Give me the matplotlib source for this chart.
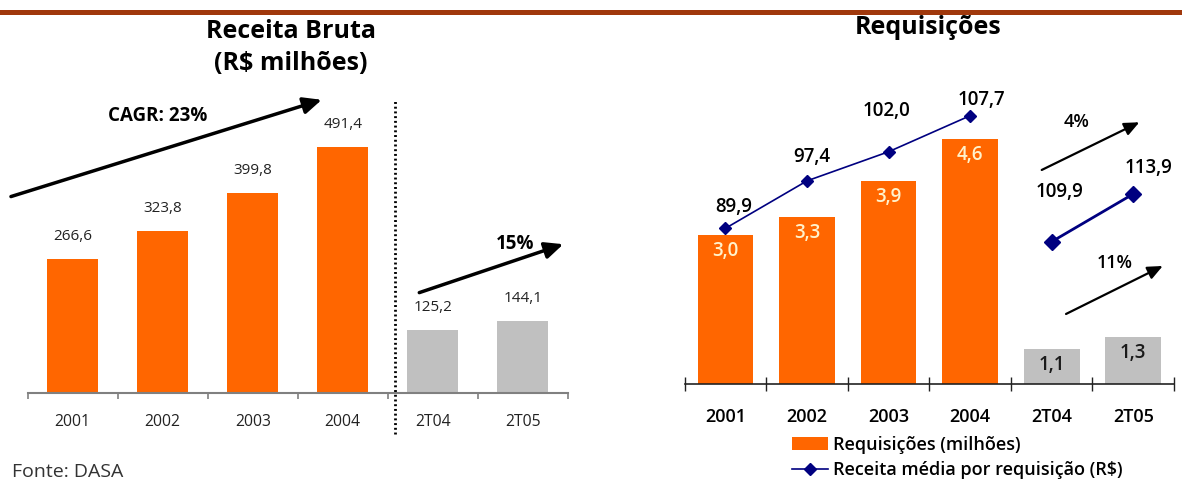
import matplotlib
matplotlib.use('Agg')
import numpy as np
import matplotlib.pyplot as plt
from matplotlib.lines import Line2D

plt.rcParams['font.family'] = ['Open Sans', 'DejaVu Sans']

# dados
periodos = ['2001', '2002', '2003', '2004', '2T04', '2T05']
receita_bruta = [266.6, 323.8, 399.8, 491.4, 125.2, 144.1]
requisicoes = [3.0, 3.3, 3.9, 4.6, 1.1, 1.3]
receita_media_anual = [89.9, 97.4, 102.0, 107.7]
receita_media_tri = [109.9, 113.9]

laranja = '#FF6600'
cinza = '#C0C0C0'
azul = '#000080'
cores = [laranja] * 4 + [cinza] * 2
peso = 'semibold'


def fmt(v):
    return f'{v:.1f}'.replace('.', ',')


W, H = 1182, 480
fig = plt.figure(figsize=(W / 100, H / 100), dpi=100)
x = np.arange(len(periodos))

# faixa no topo
fig.add_artist(Line2D([0, 1], [1 - 12 / H, 1 - 12 / H], color='#A0380C', lw=3.6))

# ---------- Receita Bruta ----------
ax1 = fig.add_axes([27.7 / W, 87.3 / H, 540 / W, 292.7 / H])
ax1.bar(x, receita_bruta, width=0.567, color=cores)
ax1.set_xlim(-0.5, 5.5)
ax1.set_ylim(0, 585)
for s in ['top', 'right', 'left']:
    ax1.spines[s].set_visible(False)
ax1.spines['bottom'].set_color('#808080')
ax1.spines['bottom'].set_linewidth(1.5)
ax1.set_yticks([])
ax1.set_xticks(x)
ax1.set_xticklabels(periodos, fontsize=11.3, color='#222222')
ax1.set_xticks(np.arange(-0.5, 6, 1), minor=True)
ax1.tick_params(axis='x', which='major', length=0, pad=15)
ax1.tick_params(axis='x', which='minor', length=4, width=1.2, color='#808080')
for xi, v in zip(x, receita_bruta):
    ax1.annotate(fmt(v), (xi, v), xytext=(0, 16.2), textcoords='offset points',
                 ha='center', va='center', fontsize=11, color='#222222')

ax1.axvline(3.58, ymin=-0.141, ymax=1, color='black', lw=2,
            linestyle=(0, (0.7, 1.0)), clip_on=False)

ax1.annotate('', xy=(2.767, 585.4), xytext=(-0.686, 392), annotation_clip=False,
             arrowprops=dict(arrowstyle='-|>,head_length=0.55,head_width=0.25',
                             mutation_scale=20, lw=2.5, color='black', shrinkA=0, shrinkB=0))
ax1.text(0.942, 553.4, 'CAGR: 23%', ha='center', va='center', fontsize=13.5, weight='bold')
ax1.annotate('', xy=(5.451, 296.8), xytext=(3.851, 200), annotation_clip=False,
             arrowprops=dict(arrowstyle='-|>,head_length=0.55,head_width=0.25',
                             mutation_scale=20, lw=2.5, color='black', shrinkA=0, shrinkB=0))
ax1.text(4.914, 296.8, '15%', ha='center', va='center', fontsize=13.5, weight='bold')

fig.text(291 / W, 1 - 31 / H, 'Receita Bruta', ha='center', va='center', fontsize=18, weight='bold')
fig.text(291 / W, 1 - 63 / H, '(R$ milhões)', ha='center', va='center', fontsize=18, weight='bold')
fig.text(11.7 / W, 1 - 472 / H, 'Fonte: DASA', va='center', fontsize=14, color='#333333')

# ---------- Requisições ----------
ax2 = fig.add_axes([684.7 / W, 96 / H, 489.3 / W, 284 / H])
barras = ax2.bar(x, requisicoes, width=0.683, color=cores, label='Requisições (milhões)')
ax2.set_xlim(-0.5, 5.5)
ax2.set_ylim(0.517, 5.25)
for s in ['top', 'right', 'left']:
    ax2.spines[s].set_visible(False)
ax2.spines['bottom'].set_color('#222222')
ax2.spines['bottom'].set_linewidth(1.2)
ax2.set_yticks([])
ax2.set_xticks(x)
ax2.set_xticklabels(periodos, fontsize=13, weight=peso)
ax2.set_xticks(np.arange(-0.5, 6, 1), minor=True)
ax2.tick_params(axis='x', which='major', length=0, pad=17.5)
ax2.tick_params(axis='x', which='minor', length=10, width=1, direction='inout', color='#222222')
for xi, v, c in zip(x, requisicoes, cores):
    ax2.annotate(fmt(v), (xi, v), xytext=(0, -11.5), textcoords='offset points',
                 ha='center', va='center', fontsize=13.5, weight=peso,
                 color='#FFF2CC' if c == laranja else '#1A1A1A')

ax3 = ax2.twinx()
ax3.set_ylim(65.29, 110.18)
linha, = ax3.plot(x[:4], receita_media_anual, color=azul, lw=1.2, marker='D', ms=6,
                  label='Receita média por requisição (R$)')
ax4 = ax2.twinx()
ax4.set_ylim(97.97, 121.78)
ax4.plot(x[4:], receita_media_tri, color=azul, lw=2, marker='D', ms=8)
for a in (ax3, ax4):
    a.set_axis_off()

offs_anual = [(5.8, 15.6), (3.6, 17.1), (-1.4, 29.5), (8.4, 11.3)]
for xi, v, o in zip(x[:4], receita_media_anual, offs_anual):
    ax3.annotate(fmt(v), (xi, v), xytext=o, textcoords='offset points',
                 ha='center', va='center', fontsize=13.5, weight=peso)
offs_tri = [(6, 36), (11.3, 18.5)]
for xi, v, o in zip(x[4:], receita_media_tri, offs_tri):
    ax4.annotate(fmt(v), (xi, v), xytext=o, textcoords='offset points',
                 ha='center', va='center', fontsize=13.5, weight=peso)

seta = dict(arrowstyle='-|>,head_length=0.5,head_width=0.22', mutation_scale=18,
            lw=1.6, color='black', shrinkA=0, shrinkB=0)
ax2.annotate('', xy=(5.075, 4.879), xytext=(3.878, 4.084), arrowprops=seta, annotation_clip=False)
ax2.text(4.307, 4.889, '4%', ha='center', va='center', fontsize=13, weight=peso)
ax2.annotate('', xy=(5.362, 2.484), xytext=(4.176, 1.684), arrowprops=seta, annotation_clip=False)
ax2.text(4.777, 2.529, '11%', ha='center', va='center', fontsize=13, weight=peso)

fig.text(928 / W, 1 - 28 / H, 'Requisições', ha='center', va='center', fontsize=18, weight='bold')

fig.legend(handles=[barras, linha], loc='upper left', bbox_to_anchor=(791.7 / W, 1 - 436 / H),
           frameon=False, handlelength=2.0, handletextpad=0.3,
           labelspacing=0.4, borderpad=0, borderaxespad=0,
           prop={'size': 13, 'weight': peso})

fig.savefig('out.png', dpi=100)
